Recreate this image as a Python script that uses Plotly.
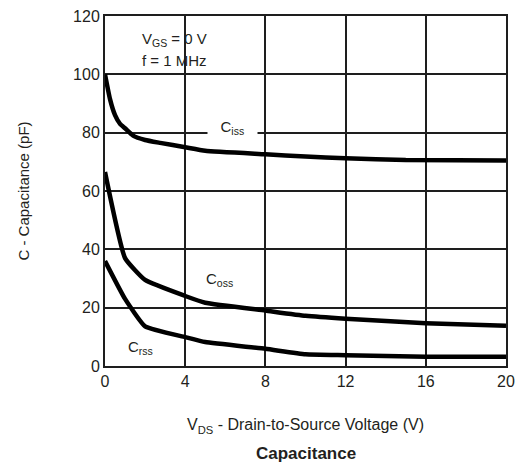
import plotly.graph_objects as go

# Data
vds_ciss = [0, 0.25, 0.5, 0.75, 1, 1.4, 2, 2.75, 4, 5, 8, 10, 12, 15, 20]
ciss = [100, 91.5, 86, 83, 81.5, 79, 77.5, 76.5, 75, 73.8, 72.6, 71.8, 71.2, 70.6, 70.5]

vds_coss = [0, 1, 2, 4, 5, 8, 10, 12, 16, 20]
coss = [66.5, 37, 29.5, 24, 21.7, 19, 17.2, 16.2, 14.7, 13.8]

vds_crss = [0, 1, 2, 4, 5, 8, 10, 12, 16, 20]
crss = [36, 23, 13.6, 9.9, 8.2, 5.9, 4.0, 3.7, 3.2, 3.2]

x_ticks = [0, 4, 8, 12, 16, 20]
y_ticks = [0, 20, 40, 60, 80, 100, 120]

FONT = "Liberation Sans, Arial, sans-serif"
TXT = "#231f20"
GRID = "#1e1e1e"

fig = go.Figure()
for xs, ys in [(vds_ciss, ciss), (vds_coss, coss), (vds_crss, crss)]:
    fig.add_trace(go.Scatter(x=xs, y=ys, mode="lines",
                             line=dict(color="black", width=4.5, shape="spline", smoothing=0.4),
                             showlegend=False, hoverinfo="skip"))

ann_font = dict(family=FONT, size=15, color=TXT)
fig.add_annotation(x=1.75, y=112.1, text="V<sub>GS</sub> = 0 V", showarrow=False,
                   xanchor="left", font=ann_font)
fig.add_annotation(x=1.75, y=104.6, text="f = 1 MHz", showarrow=False,
                   xanchor="left", font=ann_font)
fig.add_annotation(x=6.38, y=81.9, text="&nbsp;&nbsp;&nbsp;C<sub>iss</sub>&nbsp;&nbsp;&nbsp;",
                   showarrow=False, bgcolor="white", font=ann_font, borderpad=0)
fig.add_annotation(x=5.69, y=29.8, text="C<sub>oss</sub>", showarrow=False,
                   font=ann_font)
fig.add_annotation(x=1.75, y=6.5, text="C<sub>rss</sub>", showarrow=False,
                   font=ann_font)
fig.add_annotation(x=0.5, y=-0.25, xref="paper", yref="paper",
                   text="<b>Capacitance</b>", showarrow=False, yanchor="middle",
                   font=dict(family=FONT, size=17, color=TXT))

fig.update_xaxes(range=[0, 20], tickvals=x_ticks, showgrid=True, gridcolor=GRID,
                 gridwidth=1.6, showline=True, linecolor=GRID, linewidth=2,
                 mirror=True, zeroline=False, ticks="",
                 tickfont=dict(family=FONT, size=16, color=TXT),
                 title=dict(text="V<sub>DS</sub> - Drain-to-Source Voltage (V)",
                            font=dict(family=FONT, size=16, color=TXT), standoff=30))
fig.update_yaxes(range=[0, 120], tickvals=y_ticks, showgrid=True, gridcolor=GRID,
                 gridwidth=1.6, showline=True, linecolor=GRID, linewidth=2,
                 mirror=True, zeroline=False, ticks="",
                 tickfont=dict(family=FONT, size=16, color=TXT),
                 title=dict(text="C - Capacitance (pF)",
                            font=dict(family=FONT, size=15, color=TXT), standoff=40))

fig.update_layout(width=518, height=465, plot_bgcolor="white", paper_bgcolor="white",
                  margin=dict(l=105, r=12, t=16, b=99, autoexpand=False))
fig.write_html("out.html")
